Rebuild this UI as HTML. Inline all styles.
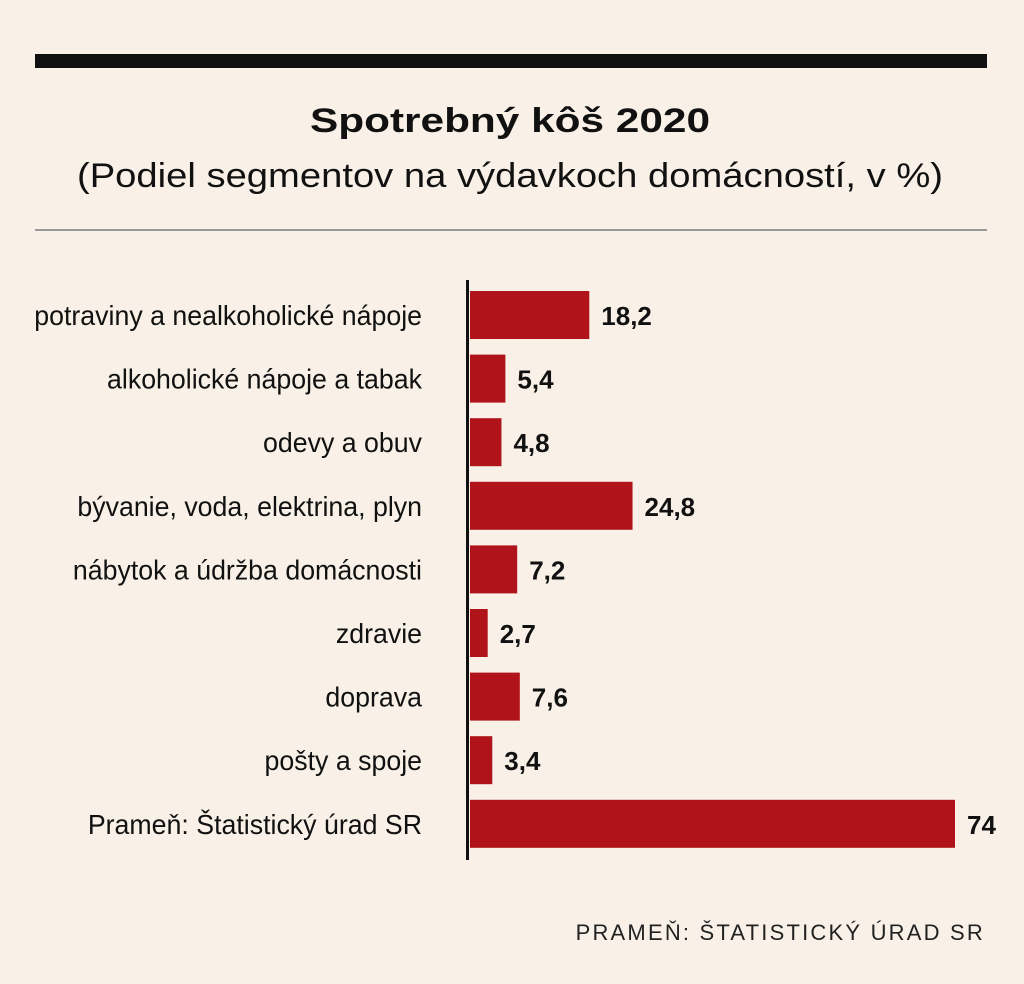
<!DOCTYPE html>
<html><head><meta charset="utf-8"><style>
html,body{margin:0;padding:0;background:#f9f1e7;}
svg{display:block;font-family:"Liberation Sans",sans-serif;}
</style></head><body>
<svg id="chart" width="1024" height="984" viewBox="0 0 1024 984">
<rect x="0" y="0" width="1024" height="984" fill="#f9f1e7"/>
<rect x="35" y="54" width="952" height="14" fill="#111"/>
<text x="510" y="132" text-anchor="middle" font-size="34" font-weight="bold" fill="#111" textLength="400" lengthAdjust="spacingAndGlyphs">Spotrebný kôš 2020</text>
<text x="510" y="187" text-anchor="middle" font-size="34" fill="#111" textLength="866" lengthAdjust="spacingAndGlyphs">(Podiel segmentov na výdavkoch domácností, v %)</text>
<rect x="35" y="229" width="952" height="2" fill="#999"/>
<g id="bars"></g>
<rect x="466" y="280" width="3" height="580" fill="#111"/>
<text x="985" y="940" text-anchor="end" font-size="22" fill="#222" letter-spacing="2.2">PRAMEŇ: ŠTATISTICKÝ ÚRAD SR</text>
</svg>
<script>
const categories = ["potraviny a nealkoholické nápoje","alkoholické nápoje a tabak","odevy a obuv","bývanie, voda, elektrina, plyn","nábytok a údržba domácnosti","zdravie","doprava","pošty a spoje","Prameň: Štatistický úrad SR"];
const values = [18.2,5.4,4.8,24.8,7.2,2.7,7.6,3.4,74];
const valueLabels = ["18,2","5,4","4,8","24,8","7,2","2,7","7,6","3,4","74"];

const NS="http://www.w3.org/2000/svg";
const x0=470, pxPerUnit=(955-470)/74;
const xScale=v=>x0+v*pxPerUnit;
const rowTop=291, rowStep=63.6, barH=48;
const yScale=i=>rowTop+i*rowStep;
const g=document.getElementById('bars');
categories.forEach((c,i)=>{
  const y=yScale(i);
  const r=document.createElementNS(NS,'rect');
  r.setAttribute('x',x0);r.setAttribute('y',y);
  r.setAttribute('width',xScale(values[i])-x0);r.setAttribute('height',barH);
  r.setAttribute('fill','#b01319');
  
  
  g.appendChild(r);
  const t=document.createElementNS(NS,'text');
  t.setAttribute('x',0);t.setAttribute('y',0);
  t.setAttribute('transform','translate(422,'+(y+barH/2+10)+') scale(0.955,1)');
  t.setAttribute('text-anchor','end');t.setAttribute('font-size','28');t.setAttribute('fill','#111');
  t.textContent=c;
  
  
  g.appendChild(t);
  const v=document.createElementNS(NS,'text');
  v.setAttribute('x',xScale(values[i])+12);v.setAttribute('y',y+barH/2+10);
  v.setAttribute('font-size','26');v.setAttribute('font-weight','bold');v.setAttribute('fill','#111');
  v.textContent=valueLabels[i];
  
  
  g.appendChild(v);
});
</script>
</body></html>
